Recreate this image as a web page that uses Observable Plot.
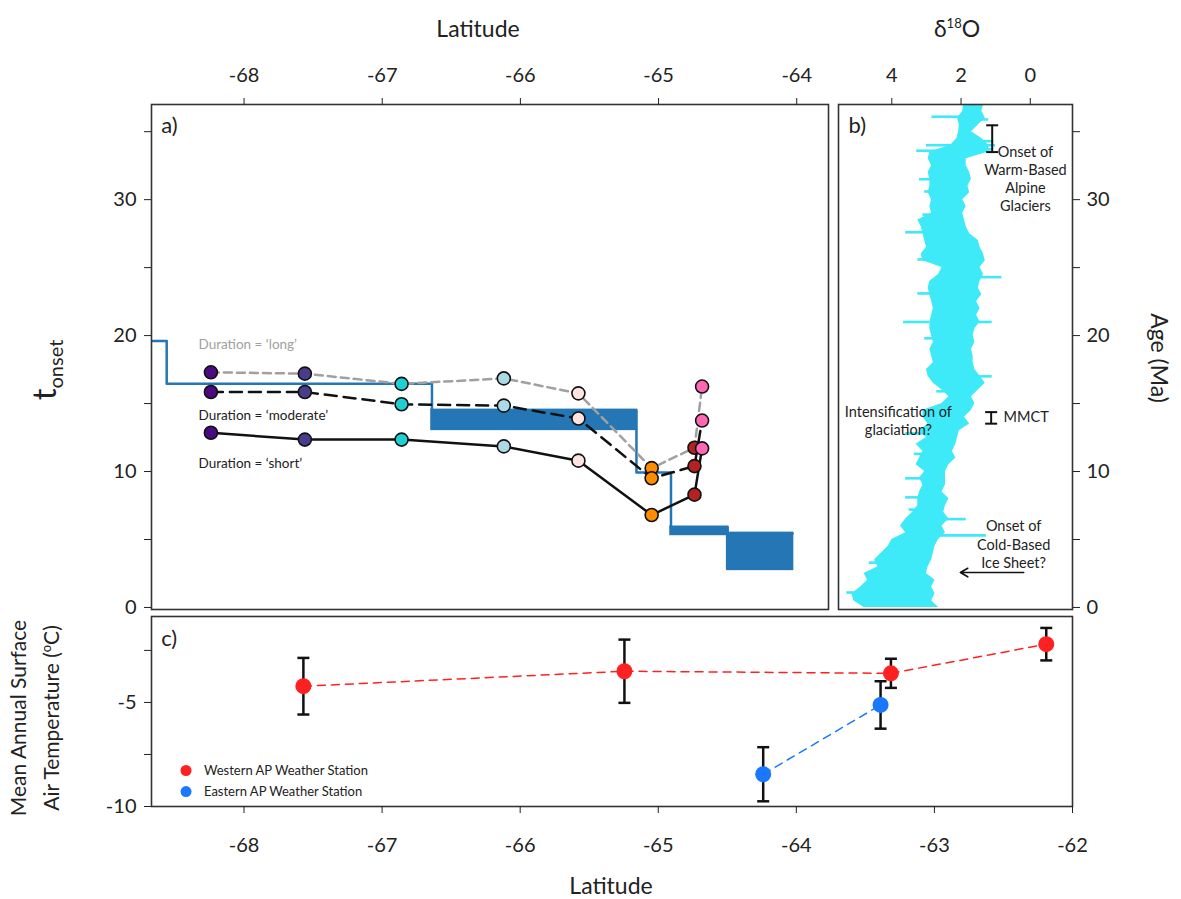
<!DOCTYPE html>
<html><head><meta charset="utf-8">
<script src="https://cdn.jsdelivr.net/npm/d3@7"></script>
<script src="https://cdn.jsdelivr.net/npm/@observablehq/plot@0.6"></script>
<style>
body{margin:0;background:#fff;font-family:Lato,"Open Sans",sans-serif;color:#222}
#wrap{position:relative;width:1181px;height:899px;overflow:hidden}
#wrap svg{position:absolute;left:0;top:0}
.lbl{position:absolute;transform:translate(-50%,-50%);white-space:nowrap;font-size:23px;color:#222;text-align:center}
</style></head><body>
<div id="wrap"></div>
<script>
// ---------- Panel a data ----------
const lats = [-68.24, -67.56, -66.86, -66.12, -65.58, -65.05, -64.74, -64.685];
const pointColors = ["#4b0a82", "#483d8b", "#1fcfd2", "#add8e6", "#ffe4e1", "#ff8c00", "#b22222", "#ff69b4"];
const tLong = [17.3, 17.2, 16.45, 16.85, 15.75, 10.25, 11.75, 16.25];
const tModerate = [15.85, 15.85, 14.95, 14.85, 13.9, 9.5, 10.4, 13.75];
const tShort = [12.85, 12.35, 12.35, 11.85, 10.8, 6.8, 8.3, 11.7];
// step band (blue): edges of latitude segments, lower & upper values per segment
const stepLat = [-68.7, -68.56, -66.64, -65.16, -64.91, -64.5, -64.03];
const stepLow = [19.6, 16.45, 13.1, 9.93, 5.37, 2.8];
const stepHigh = [19.6, 16.45, 14.5, 9.93, 5.9, 5.45];

// ---------- Panel b data (delta18O envelope vs age) ----------
const ageB = [37,36.5,36,35.5,35,34.5,34,33.5,33,32.5,32,31.5,31,30.5,30,29.5,29,28.5,28,27.5,27,26.5,26,25.5,25,24.5,24,23.5,23,22.5,22,21.5,21,20.5,20,19.5,19,18.5,18,17.5,17,16.5,16,15.5,15,14.5,14,13.5,13,12.5,12,11.5,11,10.5,10,9.5,9,8.5,8,7.5,7,6.5,6,5.5,5,4.5,4,3.5,3,2.5,2,1.5,1,0.5,0];
const d18Max = [1.93,1.95,2.1,2.05,2.07,2.12,2.3,2.9,2.95,2.85,2.95,2.9,2.9,2.95,2.85,2.9,2.85,3.25,3.15,3.1,3.05,3.0,3.15,3.1,2.55,2.65,2.9,2.95,2.9,2.85,2.8,2.85,2.9,2.9,2.85,2.8,2.9,2.85,2.8,3.0,2.95,2.8,2.55,2.35,2.55,3.1,3.1,2.95,3.2,3.0,3.3,3.1,3.2,3.3,3.05,3.2,3.1,3.2,3.25,3.25,3.4,3.6,3.75,3.6,4.0,4.1,4.3,4.5,4.4,4.8,4.7,4.9,5.15,5.1,4.8];
const d18Min = [1.35,1.4,1.3,1.5,1.7,1.4,1.2,1.2,1.85,1.85,1.75,1.7,1.8,1.75,1.95,1.85,1.95,1.9,1.85,1.75,1.5,1.45,1.35,1.3,1.45,1.35,1.45,1.5,1.4,1.55,1.45,1.55,1.45,1.6,1.65,1.6,1.7,1.65,1.65,1.6,1.45,1.3,1.5,1.7,1.6,1.7,1.9,1.75,2.05,2.1,2.15,2.25,2.15,2.35,2.45,2.45,2.45,2.55,2.35,2.45,2.5,2.35,2.55,2.45,2.65,2.75,2.8,2.85,2.95,3.0,2.75,2.85,2.75,2.85,2.65];
const spikeAge = [36.1,35.9,34.3,34.0,33.7,33.6,31.5,27.6,25.6,24.3,23.1,21.0,21.0,17.0,12.8,9.5,8.1,6.5,5.3,30.6,28.9,19.8,15.9,11.3,7.2,3.3,1.1];
const spikeFrom = [2.0,1.8,1.8,3.0,1.8,3.28,3.2,3.6,3.25,1.5,3.25,3.66,1.8,1.6,3.6,3.6,3.6,2.5,2.6,3.05,3.1,3.05,2.7,3.35,3.5,4.65,5.3];
const spikeTo = [2.84,1.2,1.05,1.0,1.1,2.5,2.6,2.9,2.7,0.82,2.7,2.9,1.1,1.1,3.0,3.0,3.1,1.85,1.27,2.8,2.8,2.8,2.4,3.05,3.2,4.3,4.9];

// ---------- Panel c data ----------
const westLat = [-67.57, -65.245, -63.315, -62.19];
const westT = [-4.22, -3.5, -3.6, -2.2];
const westErr = [1.36, 1.52, 0.7, 0.78];
const eastLat = [-64.24, -63.39];
const eastT = [-8.45, -5.12];
const eastErr = [1.3, 1.14];

// ---------- helpers ----------
const FONT = "Lato, 'Open Sans', sans-serif";
const baseStyle = {background: "transparent", fontSize: "20px", fontFamily: FONT, color: "#222", overflow: "visible"};
const hcap = {draw(ctx, size){ const r = Math.sqrt(size/Math.PI); ctx.moveTo(-r,0); ctx.lineTo(r,0);} };
const tick10 = d => (d % 10 === 0 ? String(d) : "");

// ---------- Panel a ----------
const rows = [];
[["long", tLong], ["moderate", tModerate], ["short", tShort]].forEach(([s, arr]) =>
  arr.forEach((v, i) => rows.push({series: s, lat: lats[i], t: v, color: pointColors[i]})));
const segs = stepLow.map((lo, i) => ({x1: stepLat[i], x2: stepLat[i+1], lo, hi: stepHigh[i]}));
const stepPts = segs.map(s => ({x: s.x1, y: s.hi})).concat([{x: segs[segs.length-1].x2, y: segs[segs.length-1].hi}]);
const BLUE = "#2476b5";

const plotA = Plot.plot({
  width: 1181, height: 615,
  marginLeft: 151, marginRight: 353, marginTop: 104, marginBottom: 6,
  style: baseStyle,
  color: {type: "identity"},
  x: {domain: [-68.67, -63.77]},
  y: {domain: [-0.15, 37]},
  marks: [
    Plot.rect(segs, {x1: "x1", x2: "x2", y1: "lo", y2: "hi", fill: BLUE, stroke: BLUE, strokeWidth: 2.5, clip: true}),
    Plot.line(stepPts, {x: "x", y: "y", curve: "step-after", stroke: BLUE, strokeWidth: 2.5, clip: true}),
    Plot.line(rows.filter(d => d.series === "long"), {x: "lat", y: "t", stroke: "#a0a0a0", strokeWidth: 2.5, strokeDasharray: "8,5"}),
    Plot.line(rows.filter(d => d.series === "moderate"), {x: "lat", y: "t", stroke: "#111", strokeWidth: 2.5, strokeDasharray: "12,7"}),
    Plot.line(rows.filter(d => d.series === "short"), {x: "lat", y: "t", stroke: "#111", strokeWidth: 2.5}),
    Plot.dot(rows, {x: "lat", y: "t", fill: "color", stroke: "#111", strokeWidth: 1.6, r: 6.5}),
    Plot.text([{x: -68.33, y: 19.3, t: "Duration = \u2018long\u2019", c: "#a0a0a0"},
               {x: -68.33, y: 14.12, t: "Duration = \u2018moderate\u2019", c: "#222"},
               {x: -68.33, y: 10.6, t: "Duration = \u2018short\u2019", c: "#222"}],
      {x: "x", y: "y", text: "t", fill: "c", textAnchor: "start", fontSize: 13.5}),
    Plot.text([{x: -68.6, y: 35.4, t: "a)"}], {x: "x", y: "y", text: "t", textAnchor: "start", fontSize: 22, fill: "#222"}),
    Plot.frame({stroke: "#333", strokeWidth: 1.6}),
    Plot.axisX({anchor: "top", ticks: [-68, -67, -66, -65, -64], tickSize: 7, tickPadding: 16, label: null, tickFormat: d => String(d)}),
    Plot.axisY({anchor: "left", ticks: [0, 5, 10, 15, 20, 25, 30, 35], tickSize: 7, tickPadding: 8, label: null, tickFormat: tick10})
  ]
});

// ---------- Panel b ----------
const env = ageB.map((a, i) => ({age: a, hi: d18Max[i], lo: d18Min[i]}));
const spikes = spikeAge.map((a, i) => ({age: a, from: spikeFrom[i], to: spikeTo[i]}));
const CYAN = "#3ee9f8";
const plotB = Plot.plot({
  width: 1181, height: 615,
  marginLeft: 838, marginRight: 109, marginTop: 104, marginBottom: 6,
  style: baseStyle,
  x: {domain: [5.54, -1.22]},
  y: {domain: [-0.15, 37]},
  marks: [
    Plot.areaX(env, {y: "age", x1: "lo", x2: "hi", fill: CYAN, clip: true}),
    Plot.ruleY(spikes, {y: "age", x1: "from", x2: "to", stroke: CYAN, strokeWidth: 2.6, clip: true}),
    Plot.ruleX([{x: 1.1, y1: 35.47, y2: 33.5}, {x: 1.13, y1: 14.37, y2: 13.52}], {x: "x", y1: "y1", y2: "y2", stroke: "#111", strokeWidth: 2}),
    Plot.dot([{x: 1.1, y: 35.47}, {x: 1.1, y: 33.5}, {x: 1.13, y: 14.37}, {x: 1.13, y: 13.52}], {x: "x", y: "y", symbol: hcap, r: 6, stroke: "#111", strokeWidth: 2}),
    Plot.arrow([{x1: 0.19, x2: 2.02, y: 2.57}], {x1: "x1", x2: "x2", y1: "y", y2: "y", stroke: "#111", strokeWidth: 1.6, headLength: 8}),
    Plot.text([{x: 0.14, y: 31.6, t: "Onset of\nWarm-Based\nAlpine\nGlaciers"},
               {x: 3.81, y: 13.76, t: "Intensification of\nglaciation?"},
               {x: 0.48, y: 4.69, t: "Onset of\nCold-Based\nIce Sheet?"}],
      {x: "x", y: "y", text: "t", textAnchor: "middle", fontSize: 14.5, lineHeight: 1.25, fill: "#222"}),
    Plot.text([{x: 0.77, y: 14.0, t: "MMCT"}], {x: "x", y: "y", text: "t", textAnchor: "start", fontSize: 14.5, fill: "#222"}),
    Plot.text([{x: 5.25, y: 35.4, t: "b)"}], {x: "x", y: "y", text: "t", textAnchor: "start", fontSize: 22, fill: "#222"}),
    Plot.frame({stroke: "#333", strokeWidth: 1.6}),
    Plot.axisX({anchor: "top", ticks: [4, 2, 0], tickSize: 7, tickPadding: 16, label: null, tickFormat: d => String(d)}),
    Plot.axisY({anchor: "right", ticks: [0, 5, 10, 15, 20, 25, 30, 35], tickSize: 7, tickPadding: 7, label: null, tickFormat: tick10})
  ]
});

// ---------- Panel c ----------
const west = westLat.map((x, i) => ({lat: x, t: westT[i], e: westErr[i]}));
const east = eastLat.map((x, i) => ({lat: x, t: eastT[i], e: eastErr[i]}));
const allC = west.concat(east);
const RED = "#ff2121", BL = "#1a78ff";
const plotC = Plot.plot({
  width: 1181, height: 899,
  marginLeft: 151, marginRight: 109, marginTop: 616, marginBottom: 93,
  style: baseStyle,
  x: {domain: [-68.67, -62]},
  y: {domain: [-10, -0.87]},
  marks: [
    Plot.line(west, {x: "lat", y: "t", stroke: RED, strokeWidth: 1.5, strokeDasharray: "8,6"}),
    Plot.line(east, {x: "lat", y: "t", stroke: BL, strokeWidth: 1.5, strokeDasharray: "8,6"}),
    Plot.ruleX(allC, {x: "lat", y1: d => d.t - d.e, y2: d => d.t + d.e, stroke: "#111", strokeWidth: 2.5}),
    Plot.dot(allC, {x: "lat", y: d => d.t + d.e, symbol: hcap, r: 6, stroke: "#111", strokeWidth: 2.5}),
    Plot.dot(allC, {x: "lat", y: d => d.t - d.e, symbol: hcap, r: 6, stroke: "#111", strokeWidth: 2.5}),
    Plot.dot(west, {x: "lat", y: "t", fill: RED, r: 8}),
    Plot.dot(east, {x: "lat", y: "t", fill: BL, r: 8}),
    Plot.dot([{x: -68.42, y: -8.27, c: RED}, {x: -68.42, y: -9.28, c: BL}], {x: "x", y: "y", fill: "c", r: 5.5}),
    Plot.text([{x: -68.29, y: -8.27, t: "Western AP Weather Station"}, {x: -68.29, y: -9.28, t: "Eastern AP Weather Station"}],
      {x: "x", y: "y", text: "t", textAnchor: "start", fontSize: 13, fill: "#222"}),
    Plot.text([{x: -68.6, y: -1.95, t: "c)"}], {x: "x", y: "y", text: "t", textAnchor: "start", fontSize: 22, fill: "#222"}),
    Plot.frame({stroke: "#333", strokeWidth: 1.6}),
    Plot.axisX({anchor: "bottom", ticks: [-68, -67, -66, -65, -64, -63, -62], tickSize: 7, tickPadding: 24, label: null, tickFormat: d => String(d)}),
    Plot.axisY({anchor: "left", ticks: [-10, -7.5, -5, -2.5], tickSize: 7, tickPadding: 8, label: null, tickFormat: d => (d % 5 === 0 ? String(d) : "")})
  ]
});

const wrap = document.getElementById("wrap");
[plotA, plotB, plotC].forEach(p => wrap.appendChild(p));

function label(html, x, y, rot, extra) {
  const d = document.createElement("div");
  d.className = "lbl";
  d.innerHTML = html;
  d.style.left = x + "px"; d.style.top = y + "px";
  d.style.transform = `translate(-50%,-50%) rotate(${rot}deg)`;
  if (extra) Object.assign(d.style, extra);
  wrap.appendChild(d);
}
label("Latitude", 478, 28, 0);
label("\u03b4<sup style='font-size:13px'>18</sup>O", 957, 28, 0);
label("t<sub style='font-size:20px'>onset</sub>", 45, 370, -90, {fontSize: "33px"});
label("Age (Ma)", 1160, 358, 90);
label("Mean Annual Surface<br>Air Temperature (<sup style='font-size:13px'>o</sup>C)", 34, 718, -90, {fontSize: "21px", lineHeight: "28px"});
label("Latitude", 611, 885, 0);
</script>
</body></html>
